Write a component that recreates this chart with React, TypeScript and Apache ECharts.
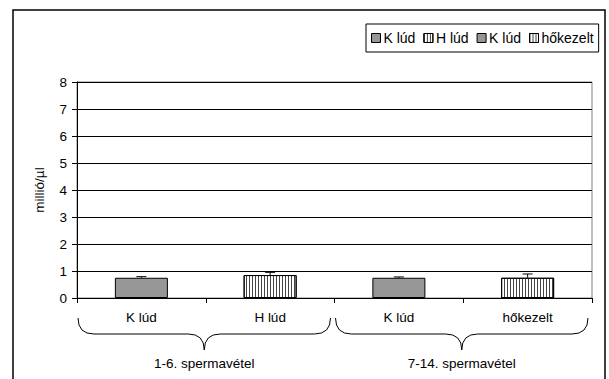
import React, { useEffect, useRef } from "react";
import * as echarts from "echarts";

const categories = ["K lúd", "H lúd", "K lúd", "hőkezelt"];
const seriesNames = ["K lúd", "H lúd", "K lúd ", "hőkezelt"];
const values = [0.75, 0.85, 0.75, 0.75];
const errors = [0.04, 0.1, 0.03, 0.14];
const hatched = [false, true, false, true];
const groupLabels = ["1-6. spermavétel", "7-14. spermavétel"];
const groupStarts = [0, 2];
const groupEnds = [1, 3];
const yTicks = [0, 1, 2, 3, 4, 5, 6, 7, 8];

const FONT = "Liberation Sans, Arial, sans-serif";
const FS = 13.5;

export default function App() {
  const ref = useRef<HTMLDivElement>(null);
  useEffect(() => {
    if (!ref.current) return;
    const chart = echarts.init(ref.current, null, { renderer: "svg" });
    const hatchDecal = {
      symbol: "rect",
      symbolSize: 1,
      dashArrayX: [1, 2],
      dashArrayY: [4, 0],
      rotation: 0,
      color: "#444",
    };
    const barSeries = values.map((v, i) => ({
      type: "bar",
      name: seriesNames[i],
      data: categories.map((_, j) => (j === i ? v : "-")),
      barWidth: 53,
      barGap: "-100%",
      itemStyle: {
        color: hatched[i] ? "#ffffff" : "#969696",
        borderColor: "#000",
        borderWidth: 1,
        decal: hatched[i] ? hatchDecal : undefined,
      },
    }));
    const errorSeries = {
      type: "custom",
      name: "err",
      coordinateSystem: "cartesian2d",
      data: values.map((v, i) => [i, v, errors[i]]),
      encode: { x: 0, y: 1 },
      z: 10,
      renderItem: (params: any, api: any) => {
        const i = api.value(0);
        const v = api.value(1);
        const e = api.value(2);
        const base = api.coord([i, v]);
        const top = api.coord([i, v + e]);
        return {
          type: "group",
          children: [
            { type: "line", shape: { x1: base[0], y1: base[1], x2: top[0], y2: top[1] }, style: { stroke: "#000", lineWidth: 1 } },
            { type: "line", shape: { x1: top[0] - 5, y1: top[1], x2: top[0] + 5, y2: top[1] }, style: { stroke: "#000", lineWidth: 1 } },
          ],
        };
      },
    };
    const braceSeries = {
      type: "custom",
      name: "groups",
      coordinateSystem: "cartesian2d",
      clip: false,
      silent: true,
      data: groupLabels.map((_, g) => [groupStarts[g], 0, groupEnds[g], g]),
      encode: { x: 0, y: 1 },
      renderItem: (params: any, api: any) => {
        const s = api.value(0);
        const e = api.value(2);
        const g = api.value(3);
        const w = api.size([1, 0])[0];
        const ps = api.coord([s, 0]);
        const pe = api.coord([e, 0]);
        const xa = ps[0] - w / 2 + 1;
        const xb = pe[0] + w / 2 - 4;
        const xc = (xa + xb) / 2;
        const y0 = ps[1];
        const yTop = y0 + 20;
        const yLine = y0 + 36;
        const yTip = y0 + 52;
        const r = 16;
        const d =
          `M${xa},${yTop} Q${xa},${yLine} ${xa + r},${yLine} L${xc - r},${yLine} ` +
          `Q${xc},${yLine} ${xc},${yTip} Q${xc},${yLine} ${xc + r},${yLine} ` +
          `L${xb - r},${yLine} Q${xb},${yLine} ${xb},${yTop}`;
        return {
          type: "group",
          children: [
            { type: "path", shape: { pathData: d }, style: { fill: "none", stroke: "#000", lineWidth: 1 } },
            {
              type: "text",
              style: {
                text: groupLabels[g],
                x: xc,
                y: y0 + 65,
                align: "center",
                verticalAlign: "middle",
                fontFamily: FONT,
                fontSize: FS,
                fill: "#000",
              },
            },
          ],
        };
      },
    };
    chart.setOption({
      animation: false,
      backgroundColor: "#fff",
      textStyle: { fontFamily: FONT },
      graphic: [
        {
          type: "rect",
          shape: { x: 13, y: 10, width: 592, height: 420 },
          style: { fill: "none", stroke: "#000", lineWidth: 1.5 },
          z: 100,
        },
      ],
      legend: {
        left: 366,
        top: 24,
        padding: [7, 5, 7, 5],
        itemGap: 8,
        itemWidth: 9,
        itemHeight: 9,
        borderColor: "#000",
        borderWidth: 1,
        icon: "rect",
        data: seriesNames,
        formatter: (n: string) => n.trim(),
        textStyle: { fontFamily: FONT, fontSize: 14, color: "#000", padding: [0, 0, 0, -2] },
        itemStyle: { borderColor: "#000", borderWidth: 1 },
      },
      grid: {
        left: 77,
        right: 17,
        top: 82,
        bottom: 81,
        show: true,
        borderColor: "#808080",
        borderWidth: 1,
      },
      xAxis: {
        type: "category",
        data: categories,
        boundaryGap: true,
        axisLine: { lineStyle: { color: "#000", width: 1 } },
        axisTick: { show: true, length: 5, lineStyle: { color: "#000" } },
        axisLabel: { margin: 12, fontFamily: FONT, fontSize: FS, color: "#000" },
      },
      yAxis: {
        type: "value",
        min: yTicks[0],
        max: yTicks[yTicks.length - 1],
        interval: 1,
        name: "millió/µl",
        nameLocation: "middle",
        nameGap: 31,
        nameRotate: 90,
        nameTextStyle: { fontFamily: FONT, fontSize: FS, color: "#000" },
        axisLine: { show: true, lineStyle: { color: "#000", width: 1 } },
        axisTick: { show: true, length: 5, lineStyle: { color: "#000" } },
        axisLabel: { margin: 10, fontFamily: FONT, fontSize: FS, color: "#000" },
        splitLine: { show: true, lineStyle: { color: "#000", width: 1 } },
      },
      series: [...barSeries, errorSeries, braceSeries],
    });
    return () => chart.dispose();
  }, []);
  return (
    <div
      ref={ref}
      style={{ position: "absolute", left: 0, top: 0, width: 609, height: 379 }}
    />
  );
}
